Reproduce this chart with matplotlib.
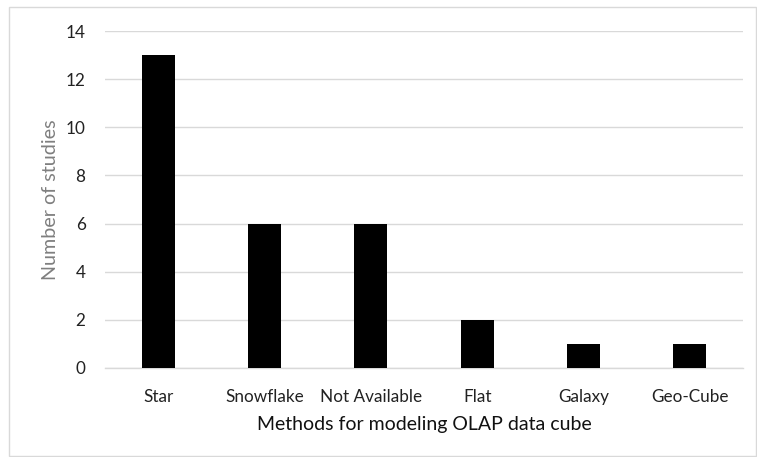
import matplotlib
matplotlib.use("Agg")
import matplotlib.pyplot as plt
from matplotlib.patches import Rectangle

categories = ["Star", "Snowflake", "Not Available", "Flat", "Galaxy", "Geo-Cube"]
studies = [13, 6, 6, 2, 1, 1]
yticks = [0, 2, 4, 6, 8, 10, 12, 14]

plt.rcParams["font.family"] = ["Lato", "DejaVu Sans"]

W, H = 757, 457
fig = plt.figure(figsize=(W / 100, H / 100), dpi=100)

# chart frame
fig.patches.append(Rectangle((9 / W, 1 - 456 / H), (756 - 9) / W, (456 - 7) / H,
                             transform=fig.transFigure, fill=False,
                             edgecolor="#d9d9d9", linewidth=1.0))

ax = fig.add_axes([105 / W, 1 - 368 / H, (743 - 105) / W, (368 - 31) / H])
x = range(len(categories))
ax.bar(x, studies, width=0.31, color="black", zorder=3)

ax.set_xlim(-0.5, len(categories) - 0.5)
ax.set_ylim(0, 14)
ax.set_yticks(yticks)
ax.set_xticks(list(x))
ax.set_xticklabels(categories)
ax.yaxis.grid(True, color="#d9d9d9", linewidth=1.0, zorder=0)
for s in ["top", "right", "left"]:
    ax.spines[s].set_visible(False)
ax.spines["bottom"].set_color("#d9d9d9")
ax.spines["bottom"].set_linewidth(1.0)
ax.tick_params(axis="both", length=0, labelsize=12.3, colors="#222222")
ax.tick_params(axis="x", pad=15)
ax.tick_params(axis="y", pad=14)

ax.set_xlabel("Methods for modeling OLAP data cube", fontsize=14, color="#111111", labelpad=8)
ax.set_ylabel("Number of studies", fontsize=14.2, color="#7f7f7f", labelpad=5)

fig.savefig("out.png", dpi=100)
